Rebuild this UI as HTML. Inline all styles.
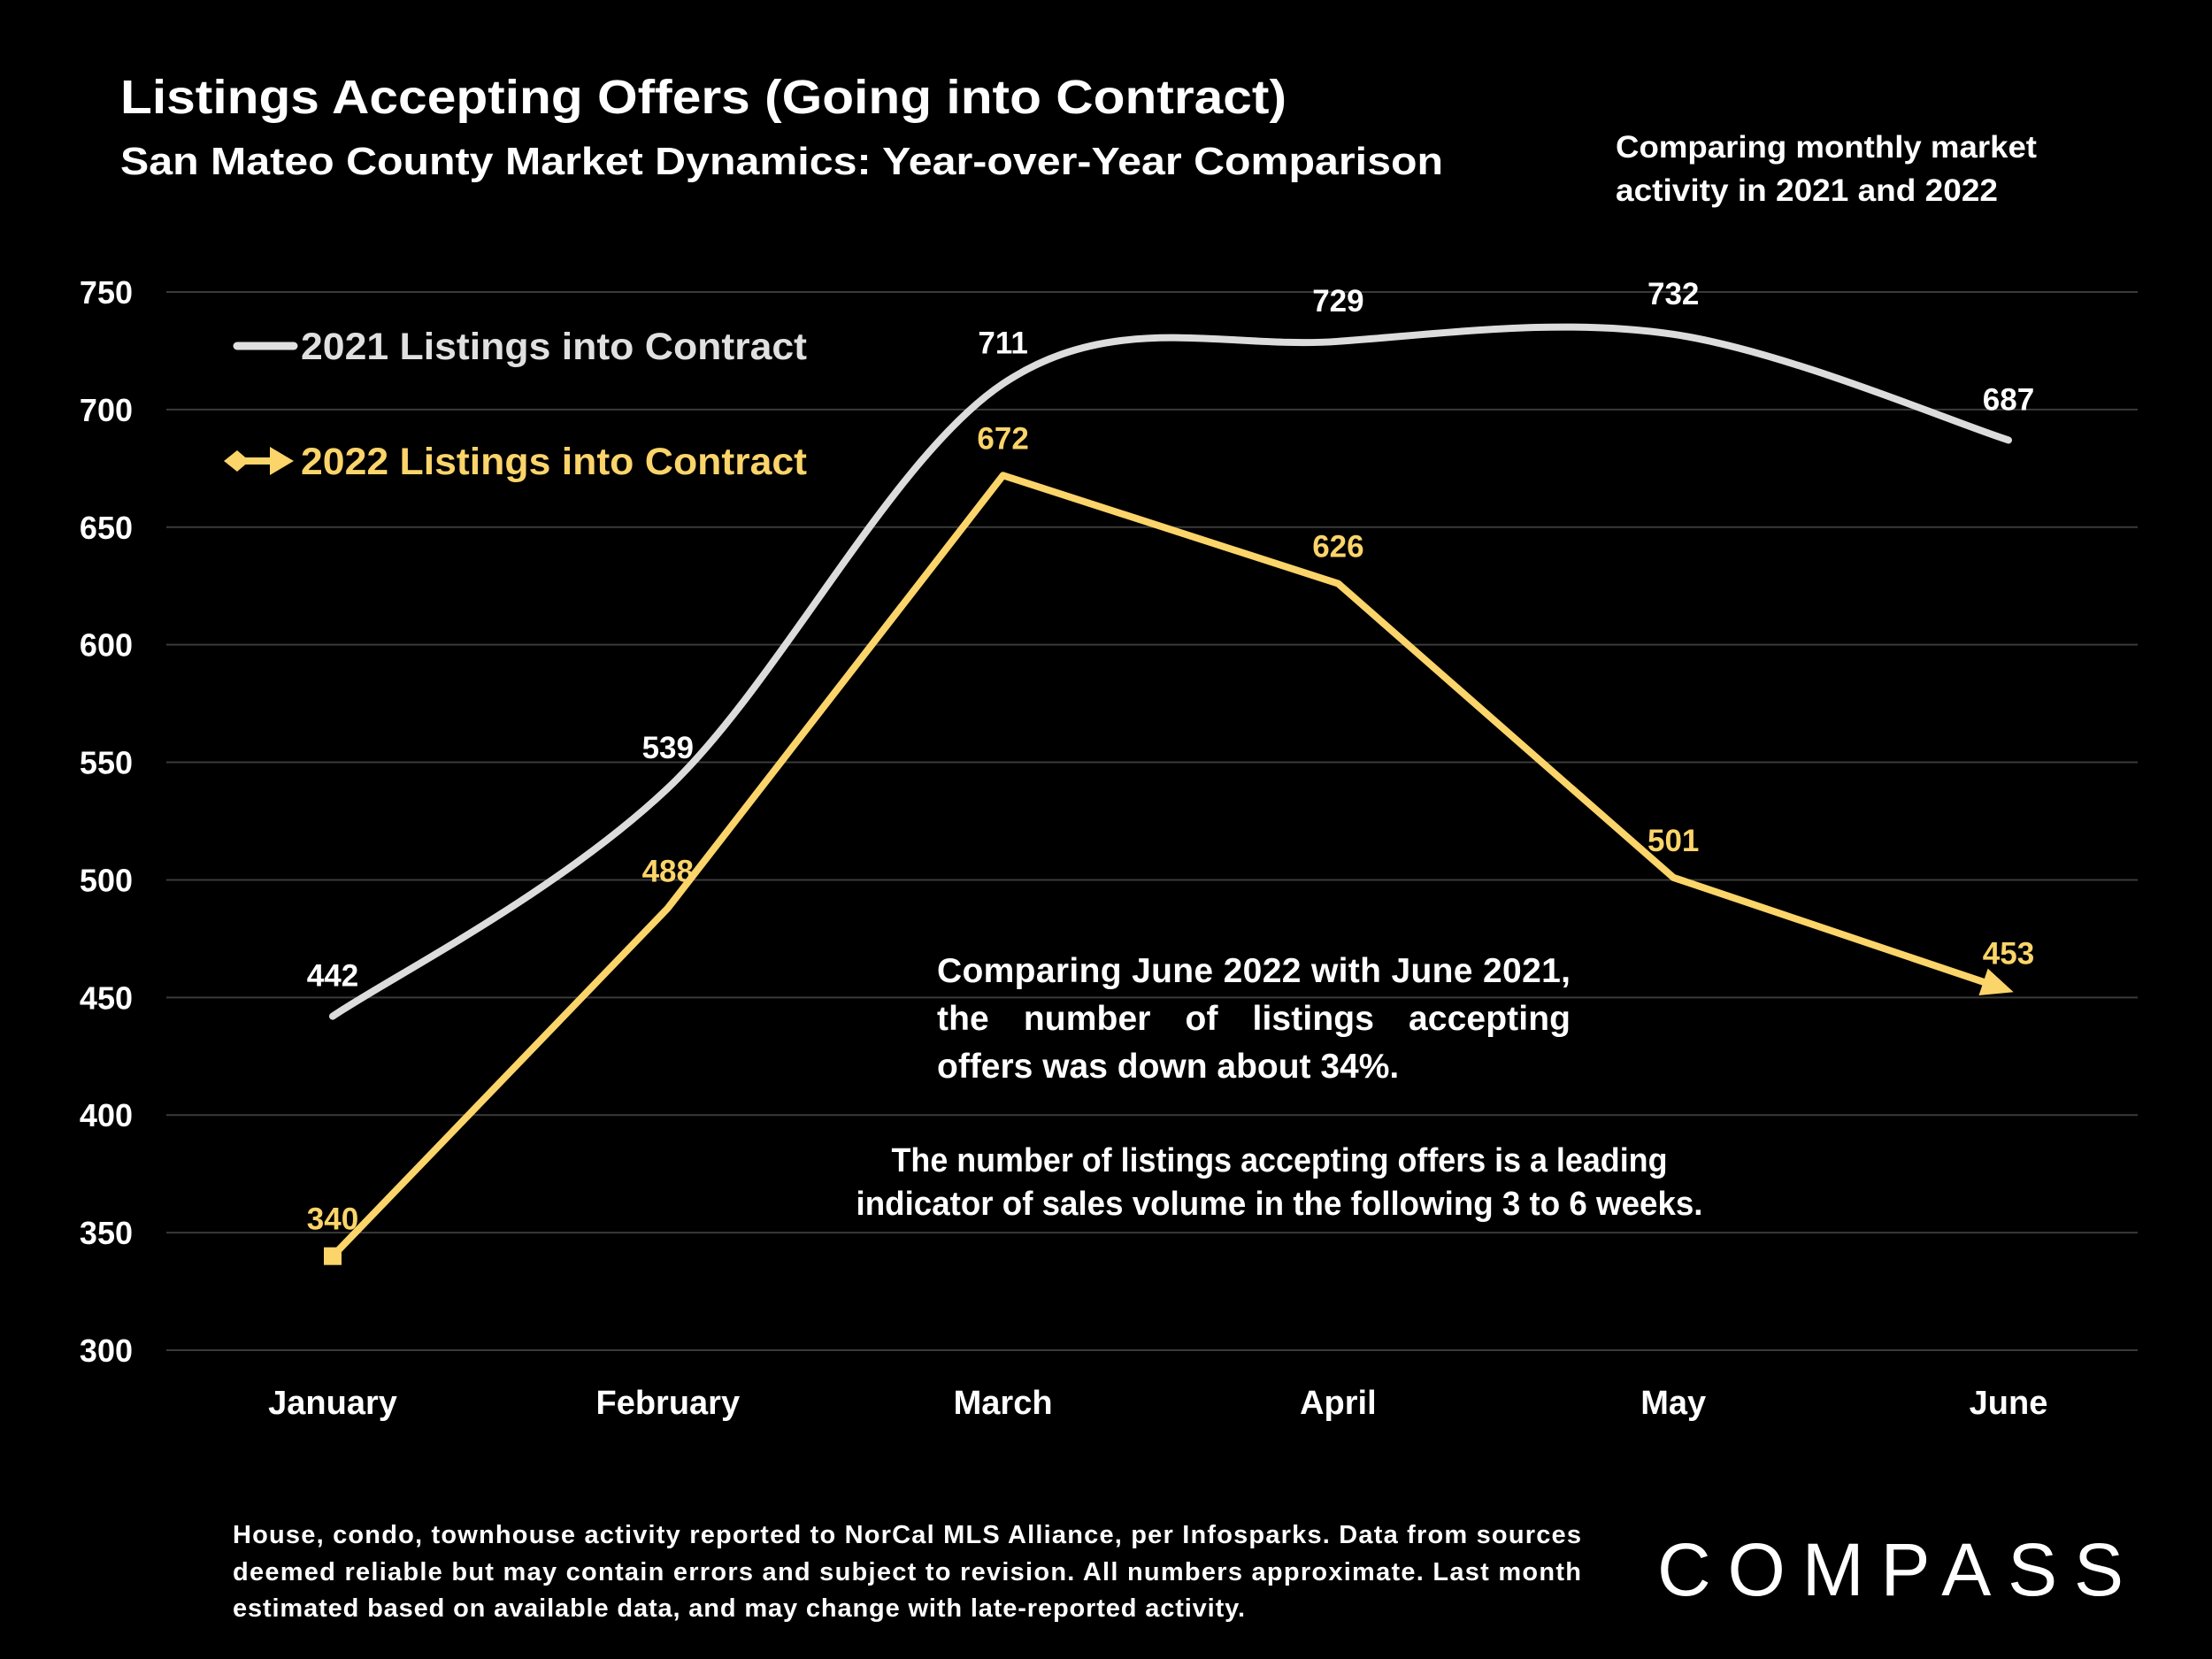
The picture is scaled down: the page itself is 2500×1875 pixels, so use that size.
<!DOCTYPE html>
<html><head><meta charset="utf-8"><style>
html,body{margin:0;padding:0;background:#000;}
svg{display:block;font-family:"Liberation Sans",sans-serif;font-weight:bold;}
</style></head><body>
<svg id="chart" width="2500" height="1875" viewBox="0 0 2500 1875" xmlns="http://www.w3.org/2000/svg">
<rect width="2500" height="1875" fill="#000"/>
<text x="136" y="128" fill="#fff" font-size="54" textLength="1318" lengthAdjust="spacingAndGlyphs">Listings Accepting Offers (Going into Contract)</text>
<text x="136" y="197" fill="#fff" font-size="44" textLength="1495" lengthAdjust="spacingAndGlyphs">San Mateo County Market Dynamics: Year-over-Year Comparison</text>
<text x="1826" y="178" fill="#fff" font-size="35" textLength="476" lengthAdjust="spacingAndGlyphs">Comparing monthly market</text>
<text x="1826" y="227" fill="#fff" font-size="35" textLength="432" lengthAdjust="spacingAndGlyphs">activity in 2021 and 2022</text>
<g id="grid"></g>
<g id="yaxis"></g>
<g id="xaxis"></g>
<g id="series"></g>
<g>
<line x1="268" y1="391" x2="332" y2="391" stroke="#e0e0e0" stroke-width="9" stroke-linecap="round"/>
<text x="340" y="406" fill="#e0e0e0" font-size="43" textLength="572" lengthAdjust="spacingAndGlyphs">2021 Listings into Contract</text>
<polygon points="253,521 268,509 282,521 268,533" fill="#fbd46a"/>
<line x1="270" y1="521" x2="315" y2="521" stroke="#fbd46a" stroke-width="8"/>
<polygon points="305,505 332,521 305,537" fill="#fbd46a"/>
<text x="340" y="536" fill="#fbd46a" font-size="43" textLength="572" lengthAdjust="spacingAndGlyphs">2022 Listings into Contract</text>
</g>
<g fill="#fff" font-size="39">
<text x="1059" y="1110" textLength="716" lengthAdjust="spacing">Comparing June 2022 with June 2021,</text>
<text x="1059" y="1164" textLength="716" lengthAdjust="spacing" word-spacing="28">the number of listings accepting</text>
<text x="1059" y="1218">offers was down about 34%.</text>
</g>
<g fill="#fff" font-size="38" text-anchor="middle">
<text x="1446" y="1324" textLength="877" lengthAdjust="spacingAndGlyphs">The number of listings accepting offers is a leading</text>
<text x="1446" y="1373" textLength="957" lengthAdjust="spacingAndGlyphs">indicator of sales volume in the following 3 to 6 weeks.</text>
</g>
<g fill="#fff" font-size="29">
<text x="263" y="1744" textLength="1524" lengthAdjust="spacing">House, condo, townhouse activity reported to NorCal MLS Alliance, per Infosparks. Data from sources</text>
<text x="263" y="1786" textLength="1524" lengthAdjust="spacing">deemed reliable but may contain errors and subject to revision. All numbers approximate. Last month</text>
<text x="263" y="1827" textLength="1144" lengthAdjust="spacing">estimated based on available data, and may change with late-reported activity.</text>
</g>
<text x="1873" y="1803" fill="#fff" font-size="84" font-weight="normal" textLength="527" lengthAdjust="spacing">COMPASS</text>
</svg>
<script>
const months = ["January","February","March","April","May","June"];
const values2021 = [442,539,711,729,732,687];
const values2022 = [340,488,672,626,501,453];
const yTicks = [300,350,400,450,500,550,600,650,700,750];

const NS = "http://www.w3.org/2000/svg";
const X0 = 376, XSTEP = 378.8;
const Y750 = 330, Y300 = 1526;
function xs(i){ return X0 + i*XSTEP; }
function ys(v){ return Y300 - (v-300)*(Y300-Y750)/450; }
function mk(tag, attrs, parent){ const e=document.createElementNS(NS,tag); for(const k in attrs) e.setAttribute(k,attrs[k]); parent.appendChild(e); return e; }

const grid=document.getElementById('grid'), yaxis=document.getElementById('yaxis'), xaxis=document.getElementById('xaxis'), series=document.getElementById('series');
yTicks.forEach(t=>{
  const l=mk('line',{x1:188,x2:2416,y1:ys(t),y2:ys(t),stroke:'#3a3a3a','stroke-width':2},grid);
  
  
  const tx=mk('text',{x:150,y:ys(t)+13,fill:'#fff','font-size':36,'text-anchor':'end'},yaxis);
  tx.textContent=t;
  
  
});
months.forEach((m,i)=>{
  const tx=mk('text',{x:xs(i),y:1598,fill:'#fff','font-size':38,'text-anchor':'middle'},xaxis);
  tx.textContent=m;
  
  
});

const p21 = values2021.map((v,i)=>[xs(i),ys(v)]);
let d = `M${p21[0][0]},${p21[0][1]}`;
for(let i=0;i<p21.length-1;i++){
  const p0=p21[Math.max(0,i-1)], p1=p21[i], p2=p21[i+1], p3=p21[Math.min(p21.length-1,i+2)];
  const c1=[p1[0]+(p2[0]-p0[0])/6, p1[1]+(p2[1]-p0[1])/6];
  const c2=[p2[0]-(p3[0]-p1[0])/6, p2[1]-(p3[1]-p1[1])/6];
  d+=` C${c1[0]},${c1[1]} ${c2[0]},${c2[1]} ${p2[0]},${p2[1]}`;
}
const l21=mk('path',{d:d,fill:'none',stroke:'#dcdcdc','stroke-width':8,'stroke-linecap':'round'},series);



const p22 = values2022.map((v,i)=>[xs(i),ys(v)]);
const n=p22.length-1;
const last=p22[n], prev=p22[n-1];
const ang=Math.atan2(last[1]-prev[1], last[0]-prev[0]);
const endX=last[0]-Math.cos(ang)*20, endY=last[1]-Math.sin(ang)*20;
const pts=p22.slice(0,n).map(p=>p.join(',')).join(' ')+` ${endX},${endY}`;
const l22=mk('polyline',{points:pts,fill:'none',stroke:'#fbd46a','stroke-width':8,'stroke-linejoin':'round'},series);


const sq=mk('rect',{x:p22[0][0]-10,y:p22[0][1]-10,width:20,height:20,fill:'#fbd46a'},series);


const ah=mk('polygon',{points:`${last[0]+6},${last[1]} ${last[0]-30},${last[1]-16} ${last[0]-30},${last[1]+16}`,fill:'#fbd46a',transform:`rotate(${ang*180/Math.PI} ${last[0]} ${last[1]})`},series);



values2021.forEach((v,i)=>{
  const t=mk('text',{x:xs(i),y:ys(v)-34,fill:'#fff','font-size':35,'text-anchor':'middle'},series);
  t.textContent=v;
  
  
});
values2022.forEach((v,i)=>{
  const t=mk('text',{x:xs(i),y:ys(v)-30,fill:'#fbd46a','font-size':35,'text-anchor':'middle'},series);
  t.textContent=v;
  
  
});
</script>
</body></html>
